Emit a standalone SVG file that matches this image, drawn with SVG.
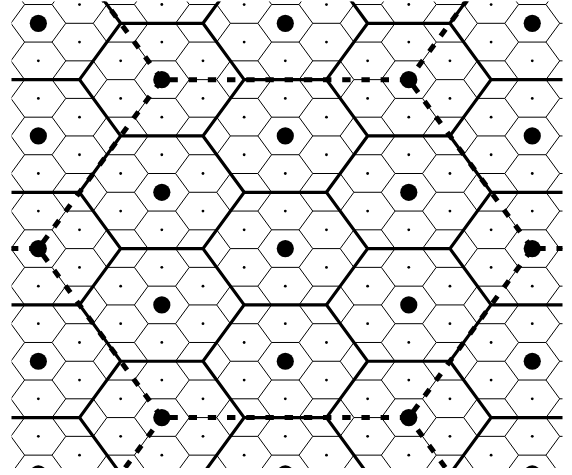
<svg xmlns="http://www.w3.org/2000/svg" width="572" height="475" viewBox="0 0 572 475">
<style>
.thin{fill:none;stroke:#000;stroke-width:1}
.thick{fill:none;stroke:#000;stroke-width:3.2;stroke-linejoin:miter}
.dash{fill:none;stroke:#000;stroke-width:5;stroke-dasharray:8.4 10.8;stroke-linecap:butt}
.big{fill:#000}
.small{fill:#000}
</style>
<defs>
<clipPath id="frame"><rect x="11.5" y="1.5" width="551" height="466.5"/></clipPath>
<path id="smallRow" d="M-71.42 0l13.72 -18.775h27.44l13.72 18.775h27.44l13.72 -18.775h27.44l13.72 18.775h27.44l13.72 -18.775h27.44l13.72 18.775h27.44l13.72 -18.775h27.44l13.72 18.775h27.44l13.72 -18.775h27.44l13.72 18.775h27.44l13.72 -18.775h27.44l13.72 18.775h27.44l13.72 -18.775h27.44l13.72 18.775h27.44l13.72 -18.775h27.44l13.72 18.775h27.44M-71.42 0l13.72 18.775m27.44 0l13.72 -18.775m27.44 0l13.72 18.775m27.44 0l13.72 -18.775m27.44 0l13.72 18.775m27.44 0l13.72 -18.775m27.44 0l13.72 18.775m27.44 0l13.72 -18.775m27.44 0l13.72 18.775m27.44 0l13.72 -18.775m27.44 0l13.72 18.775m27.44 0l13.72 -18.775m27.44 0l13.72 18.775m27.44 0l13.72 -18.775m27.44 0l13.72 18.775m27.44 0l13.72 -18.775m27.44 0"/>
<path id="bigRow" d="M-43.98 0l41.16 -56.325h82.32l41.16 56.325h82.32l41.16 -56.325h82.32l41.16 56.325h82.32l41.16 -56.325h82.32l41.16 56.325h82.32M-43.98 0l41.16 56.325m82.32 0l41.16 -56.325m82.32 0l41.16 56.325m82.32 0l41.16 -56.325m82.32 0l41.16 56.325m82.32 0l41.16 -56.325m82.32 0"/>
<g id="cell">
<circle class="big" cx="0" cy="0" r="8.6"/>
<circle class="small" cx="0" cy="-37.55" r="1.4"/>
<circle class="small" cx="0" cy="37.55" r="1.4"/>
<circle class="small" cx="-41.16" cy="-18.775" r="1.4"/>
<circle class="small" cx="41.16" cy="-18.775" r="1.4"/>
<circle class="small" cx="-41.16" cy="18.775" r="1.4"/>
<circle class="small" cx="41.16" cy="18.775" r="1.4"/>
</g>
</defs>
<rect x="0" y="0" width="572" height="475" fill="#fff"/>
<g clip-path="url(#frame)">
<g id="small-grid" class="thin">
<use href="#smallRow" y="-14.25"/>
<use href="#smallRow" y="23.3"/>
<use href="#smallRow" y="60.85"/>
<use href="#smallRow" y="98.4"/>
<use href="#smallRow" y="135.95"/>
<use href="#smallRow" y="173.5"/>
<use href="#smallRow" y="211.05"/>
<use href="#smallRow" y="248.6"/>
<use href="#smallRow" y="286.15"/>
<use href="#smallRow" y="323.7"/>
<use href="#smallRow" y="361.25"/>
<use href="#smallRow" y="398.8"/>
<use href="#smallRow" y="436.35"/>
<use href="#smallRow" y="473.9"/>
</g>
<g id="cluster-grid" class="thick">
<use href="#bigRow" y="23.3"/>
<use href="#bigRow" y="135.95"/>
<use href="#bigRow" y="248.6"/>
<use href="#bigRow" y="361.25"/>
<use href="#bigRow" y="473.9"/>
</g>
<g id="cells">
<use href="#cell" x="38.34" y="23.3"/>
<use href="#cell" x="38.34" y="135.95"/>
<use href="#cell" x="38.34" y="248.6"/>
<use href="#cell" x="38.34" y="361.25"/>
<use href="#cell" x="38.34" y="473.9"/>
<use href="#cell" x="285.3" y="23.3"/>
<use href="#cell" x="285.3" y="135.95"/>
<use href="#cell" x="285.3" y="248.6"/>
<use href="#cell" x="285.3" y="361.25"/>
<use href="#cell" x="285.3" y="473.9"/>
<use href="#cell" x="532.26" y="23.3"/>
<use href="#cell" x="532.26" y="135.95"/>
<use href="#cell" x="532.26" y="248.6"/>
<use href="#cell" x="532.26" y="361.25"/>
<use href="#cell" x="532.26" y="473.9"/>
<use href="#cell" x="161.82" y="-33.025"/>
<use href="#cell" x="161.82" y="79.625"/>
<use href="#cell" x="161.82" y="192.275"/>
<use href="#cell" x="161.82" y="304.925"/>
<use href="#cell" x="161.82" y="417.575"/>
<use href="#cell" x="408.78" y="-33.025"/>
<use href="#cell" x="408.78" y="79.625"/>
<use href="#cell" x="408.78" y="192.275"/>
<use href="#cell" x="408.78" y="304.925"/>
<use href="#cell" x="408.78" y="417.575"/>
</g>
<g id="connectors" class="dash">
<line x1="38.34" y1="248.6" x2="161.82" y2="79.625" stroke-dashoffset="11.6"/>
<line x1="161.82" y1="79.625" x2="408.78" y2="79.625" stroke-dashoffset="11.6"/>
<line x1="408.78" y1="79.625" x2="532.26" y2="248.6" stroke-dashoffset="11.6"/>
<line x1="38.34" y1="248.6" x2="161.82" y2="417.575" stroke-dashoffset="11.6"/>
<line x1="161.82" y1="417.575" x2="408.78" y2="417.575" stroke-dashoffset="11.6"/>
<line x1="408.78" y1="417.575" x2="532.26" y2="248.6" stroke-dashoffset="11.6"/>
<line x1="161.82" y1="79.625" x2="38.34" y2="-89.35" stroke-dashoffset="18.5"/>
<line x1="408.78" y1="79.625" x2="532.26" y2="-89.35" stroke-dashoffset="3.6"/>
<line x1="161.82" y1="417.575" x2="38.34" y2="586.55" stroke-dashoffset="3.9"/>
<line x1="408.78" y1="417.575" x2="532.26" y2="586.55" stroke-dashoffset="4.1"/>
<line x1="38.34" y1="248.6" x2="-208.62" y2="248.6" stroke-dashoffset="18.4"/>
<line x1="532.26" y1="248.6" x2="779.22" y2="248.6" stroke-dashoffset="14.2"/>
</g>
</g>
</svg>
